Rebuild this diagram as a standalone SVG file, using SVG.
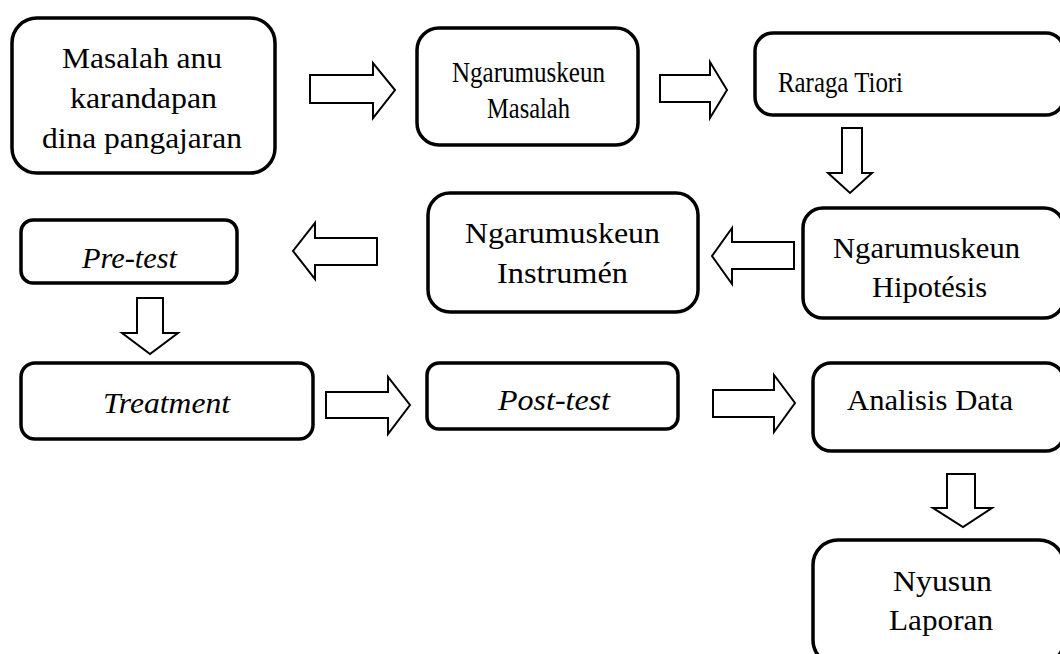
<svg xmlns="http://www.w3.org/2000/svg" width="1060" height="654" viewBox="0 0 1060 654">
<style>
.box{fill:#fff;stroke:#000;stroke-width:3.5}
.arr{fill:#fff;stroke:#000;stroke-width:2;stroke-linejoin:miter}
text{font-family:"Liberation Serif","Times New Roman",serif;fill:#000;text-anchor:middle;font-size:29px}
.it{font-style:italic}
</style>
<rect width="1060" height="654" fill="#fff"/>
<g id="connectors">
<polygon class="arr" points="310,75 373,75 373,63 395,90 373,118 373,103 310,103"/>
<polygon class="arr" points="660,75 710,75 710,62 727,90 710,118 710,102 660,102"/>
<polygon class="arr" points="842,128 862,128 862,173 872,173 850,193 828,173 842,173"/>
<polygon class="arr" points="794,242 732,242 732,228 712,256 732,284 732,269 794,269"/>
<polygon class="arr" points="377,238 315,238 315,223 293,251 315,279 315,265 377,265"/>
<polygon class="arr" points="137,298 163,298 163,333 178,333 150,354 122,333 137,333"/>
<polygon class="arr" points="326,392 388,392 388,377 410,405 388,434 388,418 326,418"/>
<polygon class="arr" points="713,390 774,390 774,375 795,403 774,432 774,417 713,417"/>
<polygon class="arr" points="947,474 975,474 975,508 992,508 963,527 933,508 947,508"/>
</g>
<g id="masalah-anu">
<rect class="box" x="12" y="18" width="263" height="155" rx="25"/>
<text x="142" y="68" textLength="160" lengthAdjust="spacingAndGlyphs">Masalah anu</text>
<text x="143.5" y="108" textLength="147" lengthAdjust="spacingAndGlyphs">karandapan</text>
<text x="142" y="148" textLength="200" lengthAdjust="spacingAndGlyphs">dina pangajaran</text>
</g>
<g id="ngarumuskeun-masalah">
<rect class="box" x="417" y="28" width="221" height="117" rx="22"/>
<text x="528.5" y="82" textLength="153" lengthAdjust="spacingAndGlyphs">Ngarumuskeun</text>
<text x="528.5" y="118" textLength="83" lengthAdjust="spacingAndGlyphs">Masalah</text>
</g>
<g id="raraga-tiori">
<rect class="box" x="755" y="33" width="309" height="82" rx="18"/>
<text x="840.5" y="92" textLength="125" lengthAdjust="spacingAndGlyphs">Raraga Tiori</text>
</g>
<g id="ngarumuskeun-hipotesis">
<rect class="box" x="803" y="208" width="261" height="110" rx="20"/>
<text x="926.5" y="258" textLength="187" lengthAdjust="spacingAndGlyphs">Ngarumuskeun</text>
<text x="929.5" y="297" textLength="115" lengthAdjust="spacingAndGlyphs">Hipotésis</text>
</g>
<g id="ngarumuskeun-instrumen">
<rect class="box" x="428" y="193" width="270" height="119" rx="22"/>
<text x="562.5" y="243" textLength="195" lengthAdjust="spacingAndGlyphs">Ngarumuskeun</text>
<text x="562.5" y="283" textLength="131" lengthAdjust="spacingAndGlyphs">Instrumén</text>
</g>
<g id="pre-test">
<rect class="box" x="21" y="220" width="216" height="63" rx="12"/>
<text class="it" x="129.5" y="268" textLength="95" lengthAdjust="spacingAndGlyphs">Pre-test</text>
</g>
<g id="treatment">
<rect class="box" x="21" y="363" width="292" height="76" rx="14"/>
<text class="it" x="166.5" y="413" textLength="127" lengthAdjust="spacingAndGlyphs">Treatment</text>
</g>
<g id="post-test">
<rect class="box" x="427" y="363" width="251" height="66" rx="12"/>
<text class="it" x="554" y="410" textLength="112" lengthAdjust="spacingAndGlyphs">Post-test</text>
</g>
<g id="analisis-data">
<rect class="box" x="813" y="363" width="251" height="88" rx="18"/>
<text x="930" y="410" textLength="166" lengthAdjust="spacingAndGlyphs">Analisis Data</text>
</g>
<g id="nyusun-laporan">
<rect class="box" x="813" y="540" width="251" height="125" rx="25"/>
<text x="942.5" y="591" textLength="99" lengthAdjust="spacingAndGlyphs">Nyusun</text>
<text x="941" y="630" textLength="104" lengthAdjust="spacingAndGlyphs">Laporan</text>
</g>
</svg>
